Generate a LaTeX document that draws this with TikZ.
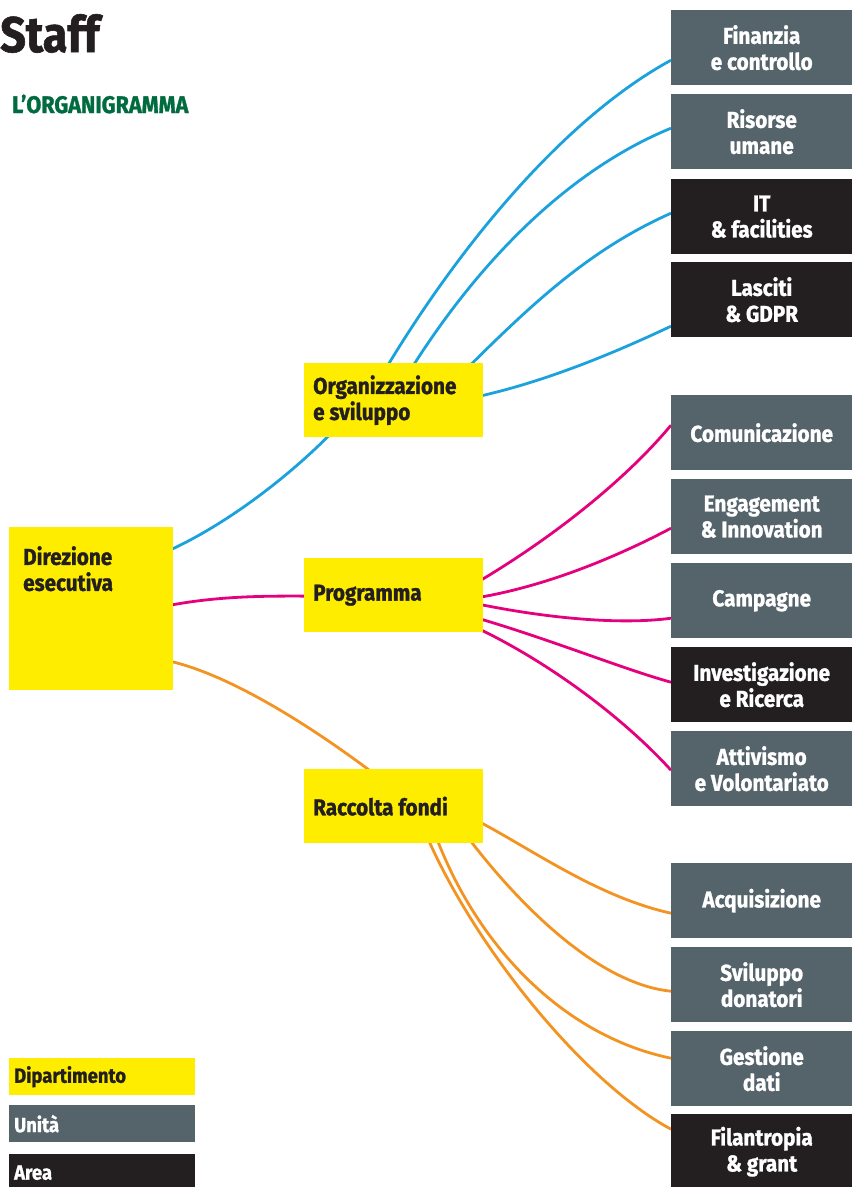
\documentclass[tikz,border=0pt]{standalone}
\usepackage{fontspec}
\setmainfont{Fira Sans}[FakeStretch=0.9,BoldFeatures={FakeBold=1.2}]
\usetikzlibrary{backgrounds}
\definecolor{deptYellow}{HTML}{FFED00}
\definecolor{unitGrey}{HTML}{55646B}
\definecolor{areaBlack}{HTML}{231F20}
\definecolor{lineBlue}{HTML}{1BA1DC}
\definecolor{lineMagenta}{HTML}{E5007D}
\definecolor{lineOrange}{HTML}{F39422}
\definecolor{titleGreen}{HTML}{006B3F}
\begin{document}
\begin{tikzpicture}
[x=1pt,y=-1pt,
  lineDecorate/.style={line width=2.8pt},%
  deptDecorate/.style={fill=deptYellow,text=areaBlack,anchor=north west,
    minimum width=179pt,minimum height=74pt,text width=161pt,inner xsep=9pt,
    inner ysep=0pt,align=flush left,font=\bfseries\fontsize{23}{26}\selectfont},
  unitDecorate/.style={text=white,anchor=north west,minimum width=181pt,
    minimum height=75pt,inner sep=0pt,align=center,
    font=\bfseries\fontsize{23}{26}\selectfont},
  legendDecorate/.style={anchor=north west,minimum width=186pt,
    minimum height=37pt,text width=176pt,inner xsep=5pt,inner ysep=0pt,
    align=flush left,font=\bfseries\fontsize{20.5}{22}\selectfont},
  scale=1]
\useasboundingbox (0,0) rectangle (852,1187);
%% titles
\node (title) at (0,52) [anchor=base west,inner sep=0pt,text=areaBlack,
  font=\bfseries\fontsize{50}{56}\selectfont] {Staff};
\node (subtitle) at (12,113) [anchor=base west,inner sep=0pt,text=titleGreen,
  font=\bfseries\fontsize{24}{26}\selectfont] {L’ORGANIGRAMMA};
%% departments
\node (dir) at (9,527) [deptDecorate,minimum width=164pt,minimum height=163pt,
  text width=146pt] {};
\node (dirText) at (23,546) [anchor=north west,inner sep=0pt,align=flush left,
  text=areaBlack,font=\bfseries\fontsize{23}{26}\selectfont] {Direzione\\esecutiva};
\node (org) at (304,363) [deptDecorate] {Organizzazione\\e sviluppo};
\node (prog) at (304,558) [deptDecorate] {Programma};
\node (rac) at (304,769) [deptDecorate] {Raccolta fondi};
%% units and areas
\foreach \nodename/\y/\col/\txt in {
  fin/10/unitGrey/{Finanzia\\e controllo}, rsu/94/unitGrey/{Risorse\\umane},
  it/179/areaBlack/{IT\\\& facilities}, las/262/areaBlack/{Lasciti\\\& GDPR},
  com/395/unitGrey/{Comunicazione}, eng/479/unitGrey/{Engagement\\\& Innovation},
  cam/563/unitGrey/{Campagne}, inv/647/areaBlack/{Investigazione\\e Ricerca},
  att/731/unitGrey/{Attivismo\\e Volontariato},
  acq/863/unitGrey/{Acquisizione}, svi/947/unitGrey/{Sviluppo\\donatori},
  ges/1031/unitGrey/{Gestione\\dati}, fil/1114/areaBlack/{Filantropia\\\& grant}}
{
  \node (\nodename) at (671,\y) [unitDecorate,fill=\col] {\txt};
}
%% legend
\foreach \nodename/\y/\col/\tcol/\txt in {
  legDept/1058/deptYellow/areaBlack/Dipartimento,
  legUnit/1105/unitGrey/white/Unità,
  legArea/1154/areaBlack/white/Area}
{
  \node (\nodename) at (9,\y) [legendDecorate,fill=\col,text=\tcol] {\txt};
}
%% connectors
\begin{pgfonlayer}{background}
\draw[lineDecorate,lineBlue] ([shift={(74,-56.5)}]dir.center)
  .. controls +(68,-30) and +(-40,45) .. ([shift={(-48.5,18)}]org.center);
\draw[lineDecorate,lineMagenta] ([shift={(74,-2.5)}]dir.center)
  .. controls +(60,-12) and +(-50,0) .. ([shift={(-63.5,1)}]prog.center);
\draw[lineDecorate,lineOrange] ([shift={(74,51.5)}]dir.center)
  .. controls +(75,15) and +(-50,-40) .. ([shift={(1.5,-16)}]rac.center);
\foreach \startnode/\sx/\sy/\ax/\ay/\bx/\by/\endnode/\ey in {
  org/-23.5/-5/80/-140/-110/60/fin/12.5, org/1.5/-5/70/-120/-110/45/rsu/-3.5,
  org/46.5/-5/80/-80/-90/40/it/-3.5, org/66.5/0/80/-15/-51/24/las/26.5}
{
  \draw[lineDecorate,lineBlue] ([shift={(\sx,\sy)}]\startnode.center)
    .. controls +(\ax,\ay) and +(\bx,\by) .. ([shift={(0,\ey)}]\endnode.west);
}
\foreach \startnode/\sx/\sy/\ax/\ay/\bx/\by/\endnode/\ey in {
  prog/66.5/-3/80/-45/-50/60/com/-7.5, prog/66.5/5/80/-10/-51/27/eng/11.5,
  prog/66.5/5/80/18/-51/7/cam/17.5, prog/66.5/18/80/22/-51/-14/inv/-2.5,
  prog/66.5/25/80/35/-50/-55/att/1.5}
{
  \draw[lineDecorate,lineMagenta] ([shift={(\sx,\sy)}]\startnode.center)
    .. controls +(\ax,\ay) and +(\bx,\by) .. ([shift={(0,\ey)}]\endnode.west);
}
\foreach \startnode/\sx/\sy/\ax/\ay/\bx/\by/\endnode/\ey in {
  rac/66.5/6/60/28/-81/-18/acq/12.5, rac/61.5/14/50/70/-80/-8/svi/6.5,
  rac/36.5/14/40/120/-111/-23/ges/-10.5, rac/26.5/14/45/115/-91/-49/fil/-22.5}
{
  \draw[lineDecorate,lineOrange] ([shift={(\sx,\sy)}]\startnode.center)
    .. controls +(\ax,\ay) and +(\bx,\by) .. ([shift={(0,\ey)}]\endnode.west);
}
\end{pgfonlayer}
\end{tikzpicture}
\end{document}
